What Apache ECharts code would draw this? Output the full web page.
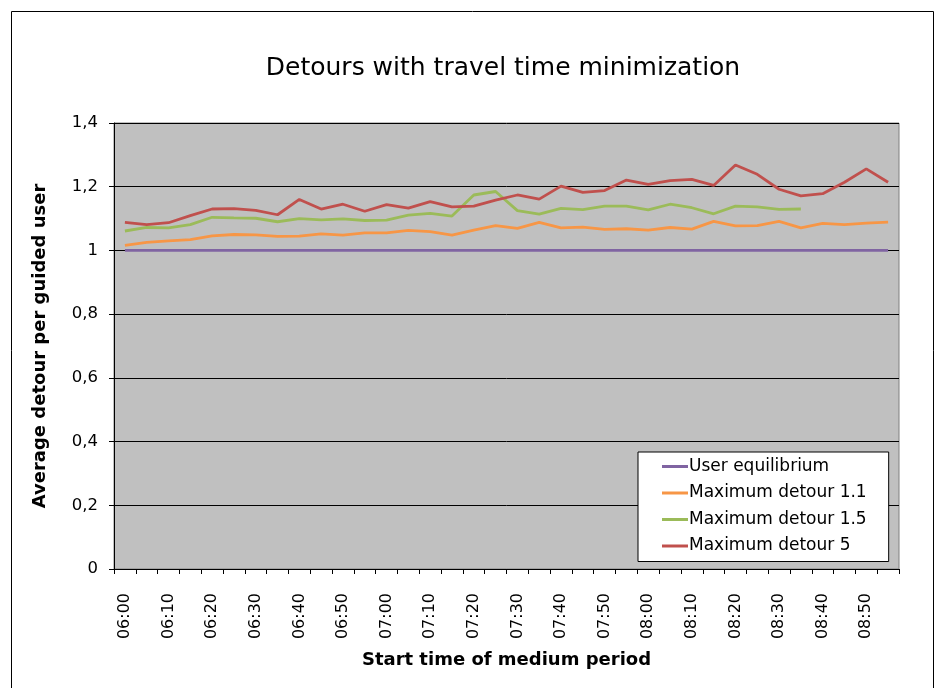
<!DOCTYPE html>
<html><head><meta charset="utf-8">
<script src="https://cdn.jsdelivr.net/npm/echarts@6/dist/echarts.min.js"></script>
<style>html,body{margin:0;padding:0;background:#fff}#c{width:940px;height:688px}</style>
</head><body><div id="c"></div>
<script>
const categories = ['06:00','06:05','06:10','06:15','06:20','06:25','06:30','06:35','06:40','06:45','06:50','06:55',
  '07:00','07:05','07:10','07:15','07:20','07:25','07:30','07:35','07:40','07:45','07:50','07:55',
  '08:00','08:05','08:10','08:15','08:20','08:25','08:30','08:35','08:40','08:45','08:50','08:55'];
const userEquilibrium = [1,1,1,1,1,1,1,1,1,1,1,1,1,1,1,1,1,1,1,1,1,1,1,1,1,1,1,1,1,1,1,1,1,1,1,1];
const maxDetour11 = [1.016,1.025,1.030,1.034,1.046,1.050,1.049,1.044,1.045,1.052,1.048,1.055,
  1.055,1.063,1.059,1.048,1.064,1.078,1.069,1.088,1.071,1.073,1.066,1.068,
  1.064,1.072,1.067,1.091,1.077,1.078,1.091,1.071,1.085,1.081,1.086,1.089];
const maxDetour15 = [1.061,1.072,1.071,1.081,1.104,1.102,1.101,1.090,1.100,1.096,1.099,1.094,
  1.095,1.111,1.116,1.108,1.174,1.185,1.125,1.114,1.132,1.128,1.139,1.139,
  1.127,1.145,1.134,1.115,1.139,1.137,1.129,1.130,null,null,null,null];
const maxDetour5 = [1.088,1.081,1.087,1.109,1.130,1.131,1.126,1.112,1.160,1.130,1.145,1.123,
  1.144,1.133,1.153,1.137,1.139,1.158,1.174,1.161,1.202,1.182,1.188,1.221,
  1.207,1.219,1.223,1.204,1.268,1.239,1.192,1.171,1.178,1.214,1.256,1.214];
const yTicks = {0:'0',0.2:'0,2',0.4:'0,4',0.6:'0,6',0.8:'0,8',1:'1',1.2:'1,2',1.4:'1,4'};

const FONT = 'DejaVu Sans';
const chart = echarts.init(document.getElementById('c'), null, {renderer:'canvas'});
function mk(name, data, color){
  return {name, type:'line', data, symbol:'none', connectNulls:false,
    lineStyle:{color, width:2.8}, itemStyle:{color}, animation:false};
}
chart.setOption({
  animation:false,
  textStyle:{fontFamily:FONT, color:'#000'},
  graphic:[{type:'rect', shape:{x:11.5,y:11.5,width:922,height:700}, style:{fill:'none', stroke:'#000', lineWidth:1}, silent:true, z:-10}],
  title:{text:'Detours with travel time minimization', left:498, top:51, textAlign:'center',
    textStyle:{fontFamily:FONT, fontSize:25, fontWeight:'normal', color:'#000'}},
  grid:{left:114, top:123, right:41, bottom:119, show:true, backgroundColor:'#C0C0C0', borderColor:'#808080', borderWidth:1},
  legend:{orient:'vertical', left:638, top:452, backgroundColor:'#fff', borderColor:'#000', borderWidth:1,
    padding:[6,22,7,24], itemGap:9.5, itemWidth:26, itemHeight:3, icon:'rect',
    textStyle:{fontFamily:FONT, fontSize:17, color:'#000', lineHeight:17, padding:[0,0,0,-4]},
    data:['User equilibrium','Maximum detour 1.1','Maximum detour 1.5','Maximum detour 5']},
  xAxis:{type:'category', data:categories, boundaryGap:true,
    name:'Start time of medium period', nameLocation:'middle', nameGap:82,
    nameTextStyle:{fontFamily:FONT, fontSize:18, fontWeight:'bold', color:'#000'},
    axisLine:{lineStyle:{color:'#000', width:1}},
    axisTick:{show:true, interval:0, length:5, lineStyle:{color:'#000'}},
    axisLabel:{interval:1, rotate:90, margin:24, fontFamily:FONT, fontSize:16, color:'#000'},
    splitLine:{show:false}},
  yAxis:{type:'value', min:0, max:1.4, interval:0.2,
    name:'Average detour per guided user', nameLocation:'middle', nameGap:65,
    nameTextStyle:{fontFamily:FONT, fontSize:18, fontWeight:'bold', color:'#000'},
    axisLine:{show:true, lineStyle:{color:'#000', width:1}},
    axisTick:{show:true, length:5, lineStyle:{color:'#000'}},
    axisLabel:{margin:16, fontFamily:FONT, fontSize:16.5, color:'#000',
      formatter:v=>{const k=Math.round(v*10)/10; return yTicks[k]!==undefined?yTicks[k]:String(k).replace('.',',');}},
    splitLine:{show:true, lineStyle:{color:'#000', width:1}}},
  series:[
    mk('User equilibrium', userEquilibrium, '#8064A2'),
    mk('Maximum detour 1.1', maxDetour11, '#F79646'),
    mk('Maximum detour 1.5', maxDetour15, '#9BBB59'),
    mk('Maximum detour 5', maxDetour5, '#C0504D')
  ]
});
</script></body></html>
